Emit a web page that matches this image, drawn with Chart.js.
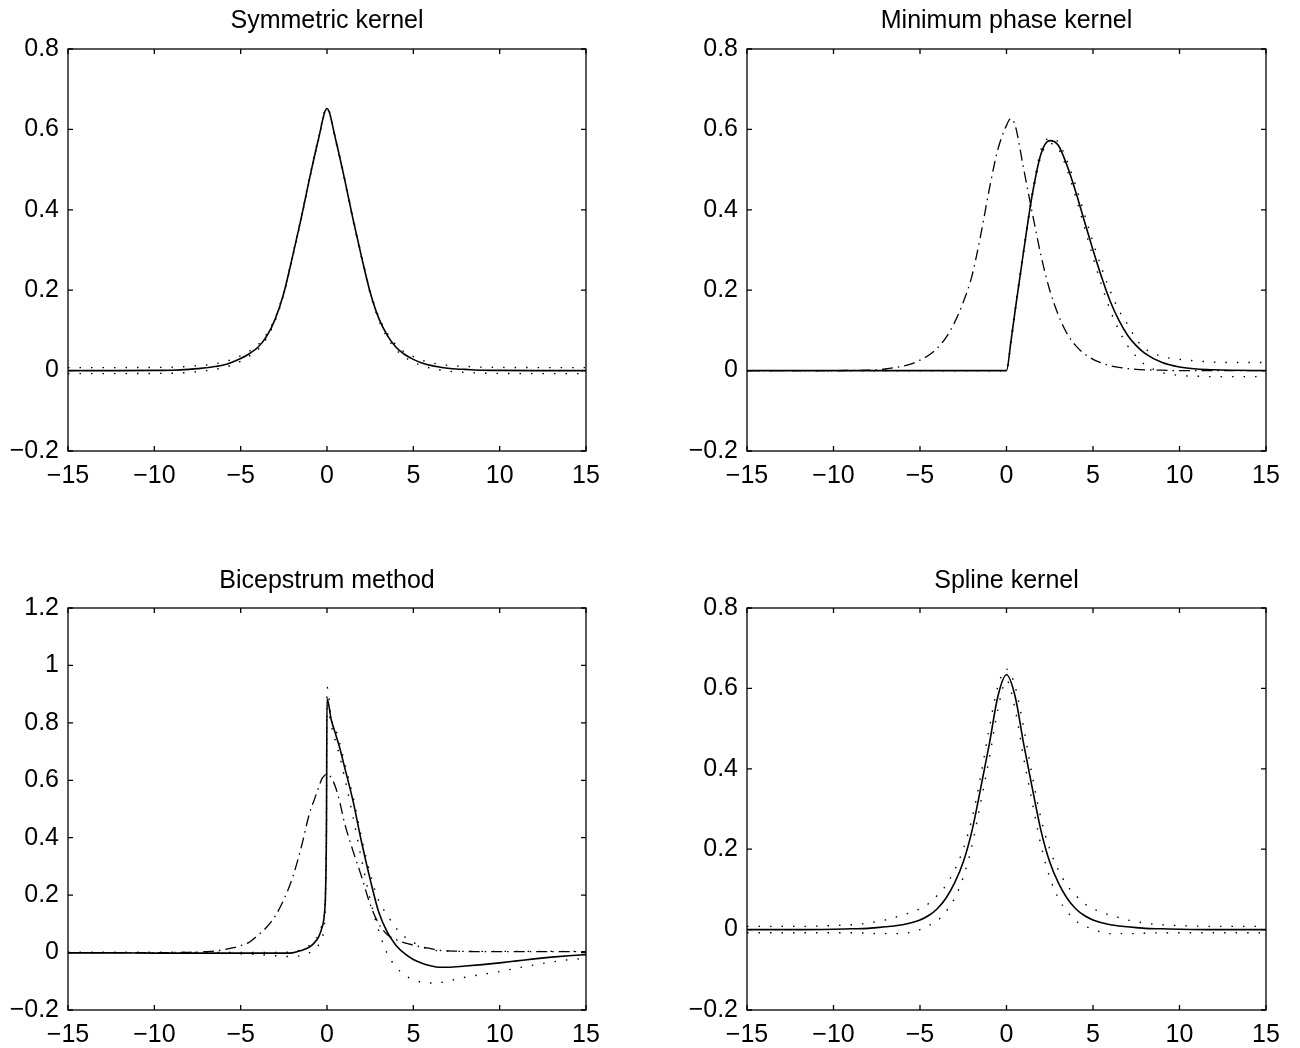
<!DOCTYPE html>
<html>
<head>
<meta charset="utf-8">
<title>Kernel estimates</title>
<script src="https://cdn.jsdelivr.net/npm/chart.js@4.4.1/dist/chart.umd.min.js"></script>
<style>
  html, body { margin: 0; padding: 0; background: #fff; }
  #page { position: relative; width: 1300px; height: 1048px; }
  .panel { position: absolute; width: 650px; height: 524px; }
  canvas { display: block; }
</style>
</head>
<body>
<div id="page">
  <div class="panel" style="left:0;top:0"><canvas id="symChart" width="650" height="524"></canvas></div>
  <div class="panel" style="left:650px;top:0"><canvas id="minChart" width="650" height="524"></canvas></div>
  <div class="panel" style="left:0;top:524px"><canvas id="bicChart" width="650" height="524"></canvas></div>
  <div class="panel" style="left:650px;top:524px"><canvas id="splChart" width="650" height="524"></canvas></div>
</div>
<script>
// tick labels
const xTicks = [-15, -10, -5, 0, 5, 10, 15];
const yTicks = [-0.2, 0, 0.2, 0.4, 0.6, 0.8];
const yTicksBic = [-0.2, 0, 0.2, 0.4, 0.6, 0.8, 1, 1.2];

// Symmetric kernel
const xSym = [-15, -12, -10, -9, -8, -7.5, -7, -6.5, -6, -5.5, -5, -4.5, -4, -3.5, -3, -2.5, -2, -1.5, -1, -0.5, 0,
              0.5, 1, 1.5, 2, 2.5, 3, 3.5, 4, 4.5, 5, 5.5, 6, 6.5, 7, 7.5, 8, 9, 10, 12, 15];
const symEst = [0, 0, 0.0005, 0.001, 0.003, 0.005, 0.007, 0.010, 0.014, 0.021, 0.030, 0.042, 0.058, 0.085, 0.128, 0.193, 0.283, 0.378, 0.48, 0.575, 0.652,
                0.575, 0.48, 0.378, 0.283, 0.195, 0.13, 0.087, 0.058, 0.040, 0.028, 0.019, 0.013, 0.009, 0.006, 0.004, 0.003, 0.001, 0.0005, 0, 0];
const symUpper = [0.0075, 0.0075, 0.008, 0.0085, 0.0105, 0.0125, 0.014, 0.017, 0.021, 0.028, 0.037, 0.048, 0.064, 0.090, 0.132, 0.196, 0.286, 0.381, 0.483, 0.578, 0.654,
                  0.578, 0.483, 0.381, 0.286, 0.198, 0.134, 0.092, 0.064, 0.046, 0.035, 0.026, 0.020, 0.016, 0.013, 0.0115, 0.0105, 0.0085, 0.008, 0.0075, 0.0075];
const symLower = [-0.0075, -0.0075, -0.007, -0.0065, -0.0045, -0.0025, 0, 0.003, 0.007, 0.014, 0.023, 0.036, 0.052, 0.080, 0.124, 0.190, 0.280, 0.375, 0.477, 0.572, 0.650,
                  0.572, 0.477, 0.375, 0.280, 0.192, 0.126, 0.082, 0.052, 0.034, 0.021, 0.012, 0.006, 0.002, -0.001, -0.0035, -0.0045, -0.0065, -0.007, -0.0075, -0.0075];

// Minimum phase kernel
const xMin = [-15, -12, -10, -9, -8, -7.5, -7, -6.5, -6, -5.5, -5, -4.5, -4, -3.5, -3, -2.5, -2, -1.5, -1, -0.5,
              0, 0.25, 0.5, 1, 1.5, 2, 2.5, 3, 3.5, 4, 4.5, 5, 5.5, 6, 6.5, 7, 7.5, 8, 9, 10, 11, 12, 13, 15];
const minEst = [0, 0, 0, 0, 0, 0, 0, 0, 0, 0, 0, 0, 0, 0, 0, 0, 0, 0, 0, 0,
                0, 0.07, 0.15, 0.30, 0.44, 0.54, 0.572, 0.56, 0.51, 0.445, 0.372, 0.30, 0.232, 0.172, 0.125, 0.088, 0.062, 0.043, 0.02, 0.009, 0.004, 0.002, 0.001, 0];
const minUpper = [0, 0, 0, 0, 0, 0, 0, 0, 0, 0, 0, 0, 0, 0, 0, 0, 0, 0, 0, 0,
                  0, 0.075, 0.155, 0.305, 0.445, 0.55, 0.578, 0.568, 0.522, 0.46, 0.39, 0.32, 0.255, 0.197, 0.15, 0.115, 0.078, 0.055, 0.035, 0.028, 0.024, 0.021, 0.02, 0.02];
const minLower = [0, 0, 0, 0, 0, 0, 0, 0, 0, 0, 0, 0, 0, 0, 0, 0, 0, 0, 0, 0,
                  0, 0.065, 0.145, 0.295, 0.435, 0.535, 0.565, 0.552, 0.5, 0.432, 0.357, 0.282, 0.212, 0.15, 0.1, 0.062, 0.035, 0.015, -0.005, -0.012, -0.014, -0.015, -0.015, -0.015];
const minTrue = [0, 0, 0, 0.0005, 0.001, 0.002, 0.004, 0.007, 0.011, 0.017, 0.026, 0.038, 0.056, 0.082, 0.12, 0.17, 0.235, 0.335, 0.45, 0.55,
                 0.61, 0.627, 0.61, 0.50, 0.39, 0.285, 0.2, 0.138, 0.092, 0.062, 0.042, 0.028, 0.019, 0.012, 0.008, 0.005, 0.003, 0.002, 0.001, 0, 0, 0, 0, 0];

// Bicepstrum method
const xBic = [-15, -12, -10, -8, -7, -6.5, -6, -5.5, -5, -4.5, -4, -3.5, -3, -2.5, -2, -1.5, -1, -0.75, -0.5, -0.3, -0.15, -0.08, -0.03,
              0, 0.25, 0.5, 0.75, 1, 1.5, 2, 2.5, 3, 3.5, 4, 4.5, 5, 5.5, 6, 6.5, 7, 8, 9, 10, 11, 12, 13, 14, 15];
const bicEst = [-0.001, -0.001, -0.002, -0.002, -0.002, -0.002, -0.002, -0.002, -0.002, -0.002, -0.002, -0.002, -0.002, -0.002, -0.001,
                0.007, 0.02, 0.033, 0.053, 0.085, 0.135, 0.22, 0.45, 0.885, 0.81, 0.76, 0.71, 0.65, 0.53, 0.385,
                0.255, 0.14, 0.07, 0.025, -0.004, -0.024, -0.037, -0.046, -0.051, -0.051, -0.047, -0.042, -0.036, -0.029, -0.022, -0.016, -0.011, -0.007];
const bicUpper = [0, 0, 0, 0, 0, 0, 0, 0, 0, 0, 0, 0, 0, 0.001, 0.003,
                  0.01, 0.026, 0.04, 0.06, 0.095, 0.14, 0.25, 0.55, 0.925, 0.815, 0.778, 0.725, 0.665, 0.545, 0.40,
                  0.275, 0.18, 0.13, 0.085, 0.055, 0.035, 0.02, 0.01, 0.006, 0.005, 0.004, 0.004, 0.004, 0.004, 0.004, 0.004, 0.004, 0.004];
const bicLower = [0, 0, 0, 0, -0.001, -0.001, -0.002, -0.003, -0.004, -0.005, -0.007, -0.009, -0.011, -0.013, -0.014,
                  -0.01, 0.0, 0.01, 0.025, 0.05, 0.1, 0.2, 0.42, 0.86, 0.79, 0.735, 0.68, 0.615, 0.475, 0.325,
                  0.185, 0.075, -0.005, -0.05, -0.078, -0.095, -0.103, -0.106, -0.105, -0.099, -0.086, -0.076, -0.066, -0.054, -0.043, -0.033, -0.025, -0.02];
const bicTrue = [0, 0, 0, 0.001, 0.003, 0.005, 0.01, 0.016, 0.024, 0.036, 0.06, 0.088, 0.127, 0.185, 0.26,
                 0.365, 0.488, 0.53, 0.572, 0.605, 0.616, 0.62, 0.621, 0.622, 0.608, 0.575, 0.522, 0.455, 0.355, 0.265,
                 0.168, 0.1, 0.062, 0.045, 0.034, 0.026, 0.019, 0.014, 0.008, 0.006, 0.004, 0.003, 0.003, 0.003, 0.003, 0.003, 0.003, 0.003];

// Spline kernel
const xSpl = [-15, -12, -10, -9, -8, -7.5, -7, -6.5, -6, -5.5, -5, -4.5, -4, -3.5, -3, -2.5, -2, -1.5, -1, -0.5, 0,
              0.5, 1, 1.5, 2, 2.5, 3, 3.5, 4, 4.5, 5, 5.5, 6, 6.5, 7, 7.5, 8, 9, 10, 12, 15];
const splEst = [0, 0, 0.001, 0.002, 0.003, 0.005, 0.007, 0.009, 0.012, 0.017, 0.024, 0.035, 0.052, 0.078, 0.116, 0.168, 0.245, 0.35, 0.46, 0.58, 0.634,
                0.58, 0.46, 0.35, 0.245, 0.168, 0.116, 0.078, 0.052, 0.035, 0.024, 0.017, 0.012, 0.009, 0.007, 0.005, 0.003, 0.002, 0.001, 0, 0];
const splUpper = [0.008, 0.008, 0.01, 0.012, 0.016, 0.02, 0.024, 0.03, 0.036, 0.043, 0.052, 0.065, 0.085, 0.11, 0.148, 0.2, 0.275, 0.38, 0.5, 0.605, 0.648,
                  0.605, 0.5, 0.38, 0.275, 0.2, 0.148, 0.11, 0.085, 0.065, 0.052, 0.043, 0.036, 0.03, 0.024, 0.02, 0.016, 0.012, 0.01, 0.008, 0.008];
const splLower = [-0.008, -0.008, -0.008, -0.008, -0.009, -0.01, -0.01, -0.01, -0.01, -0.006, 0.0, 0.01, 0.022, 0.045, 0.078, 0.13, 0.208, 0.315, 0.425, 0.548, 0.62,
                  0.548, 0.425, 0.315, 0.208, 0.13, 0.078, 0.045, 0.022, 0.01, 0.0, -0.006, -0.01, -0.01, -0.01, -0.01, -0.009, -0.008, -0.008, -0.008, -0.008];

const SOLID = { borderDash: [], borderWidth: 1.6 };
const DOTTED = { borderDash: [1.5, 10], borderWidth: 1.4 };
const DASHDOT = { borderDash: [11, 5, 1.5, 5], borderWidth: 1.3 };

Chart.defaults.font.family = '"Liberation Sans", Arial, Helvetica, sans-serif';
Chart.defaults.color = '#000';

function fmt(v) {
    return String(Math.round(v * 10) / 10).replace('-', '\u2212');
}

function pts(xs, ys) {
    return xs.map((x, i) => ({ x: x, y: ys[i] }));
}

// box with inward tick marks on all four sides, like the old matlab axes
const frame = {
    id: 'frame',
    afterDatasetsDraw(chart) {
        const { ctx, chartArea: a, scales: { x, y } } = chart;
        ctx.save();
        ctx.strokeStyle = '#000';
        ctx.lineWidth = 1.3;
        ctx.setLineDash([]);
        ctx.strokeRect(a.left, a.top, a.right - a.left, a.bottom - a.top);
        ctx.beginPath();
        x.ticks.forEach(t => {
            const px = x.getPixelForValue(t.value);
            ctx.moveTo(px, a.bottom); ctx.lineTo(px, a.bottom - 5);
            ctx.moveTo(px, a.top); ctx.lineTo(px, a.top + 5);
        });
        y.ticks.forEach(t => {
            const py = y.getPixelForValue(t.value);
            ctx.moveTo(a.left, py); ctx.lineTo(a.left + 5, py);
            ctx.moveTo(a.right, py); ctx.lineTo(a.right - 5, py);
        });
        ctx.stroke();
        ctx.restore();
    }
};

function makePanel(id, title, xs, series, yList, box) {
    const W = 650, H = 524;
    const titleSize = 25, half = titleSize * 1.2 / 2;
    const datasets = series.map(s => Object.assign({
        data: pts(xs, s.values),
        borderColor: '#000',
        backgroundColor: '#000',
        pointRadius: 0,
        fill: false,
        cubicInterpolationMode: 'monotone'
    }, s.style));

    return new Chart(document.getElementById(id).getContext('2d'), {
        type: 'line',
        data: { datasets: datasets },
        options: {
            responsive: false,
            animation: false,
            events: [],
            layout: { padding: { left: 0, right: W - box.right, top: 0, bottom: 0 } },
            plugins: {
                legend: { display: false },
                tooltip: { enabled: false },
                title: {
                    display: true,
                    text: title,
                    fullSize: false,
                    font: { size: titleSize, weight: 'normal' },
                    padding: { top: box.titleY - half, bottom: box.top - box.titleY - half }
                }
            },
            scales: {
                x: {
                    type: 'linear',
                    min: xTicks[0],
                    max: xTicks[xTicks.length - 1],
                    afterBuildTicks: sc => { sc.ticks = xTicks.map(v => ({ value: v })); },
                    afterFit: sc => { sc.height = H - box.bottom; },
                    grid: { display: false, drawTicks: false },
                    border: { display: false },
                    ticks: { font: { size: 25 }, padding: 10, maxRotation: 0, autoSkip: false, callback: fmt }
                },
                y: {
                    min: yList[0],
                    max: yList[yList.length - 1],
                    afterBuildTicks: sc => { sc.ticks = yList.map(v => ({ value: v })); },
                    afterFit: sc => { sc.width = box.left; },
                    grid: { display: false, drawTicks: false },
                    border: { display: false },
                    ticks: { font: { size: 25 }, padding: 9, autoSkip: false, callback: fmt }
                }
            }
        },
        plugins: [frame]
    });
}

document.addEventListener('DOMContentLoaded', function() {
    makePanel('symChart', 'Symmetric kernel', xSym, [
        { values: symUpper, style: DOTTED },
        { values: symLower, style: DOTTED },
        { values: symEst, style: SOLID }
    ], yTicks, { left: 68, right: 586, top: 49, bottom: 451, titleY: 21 });

    makePanel('minChart', 'Minimum phase kernel', xMin, [
        { values: minUpper, style: DOTTED },
        { values: minLower, style: DOTTED },
        { values: minTrue, style: DASHDOT },
        { values: minEst, style: SOLID }
    ], yTicks, { left: 97, right: 616, top: 49, bottom: 451, titleY: 21 });

    makePanel('bicChart', 'Bicepstrum method', xBic, [
        { values: bicUpper, style: DOTTED },
        { values: bicLower, style: DOTTED },
        { values: bicTrue, style: DASHDOT },
        { values: bicEst, style: SOLID }
    ], yTicksBic, { left: 68, right: 586, top: 84, bottom: 486, titleY: 57 });

    makePanel('splChart', 'Spline kernel', xSpl, [
        { values: splUpper, style: DOTTED },
        { values: splLower, style: DOTTED },
        { values: splEst, style: SOLID }
    ], yTicks, { left: 97, right: 616, top: 84, bottom: 486, titleY: 57 });
});
</script>
</body>
</html>
